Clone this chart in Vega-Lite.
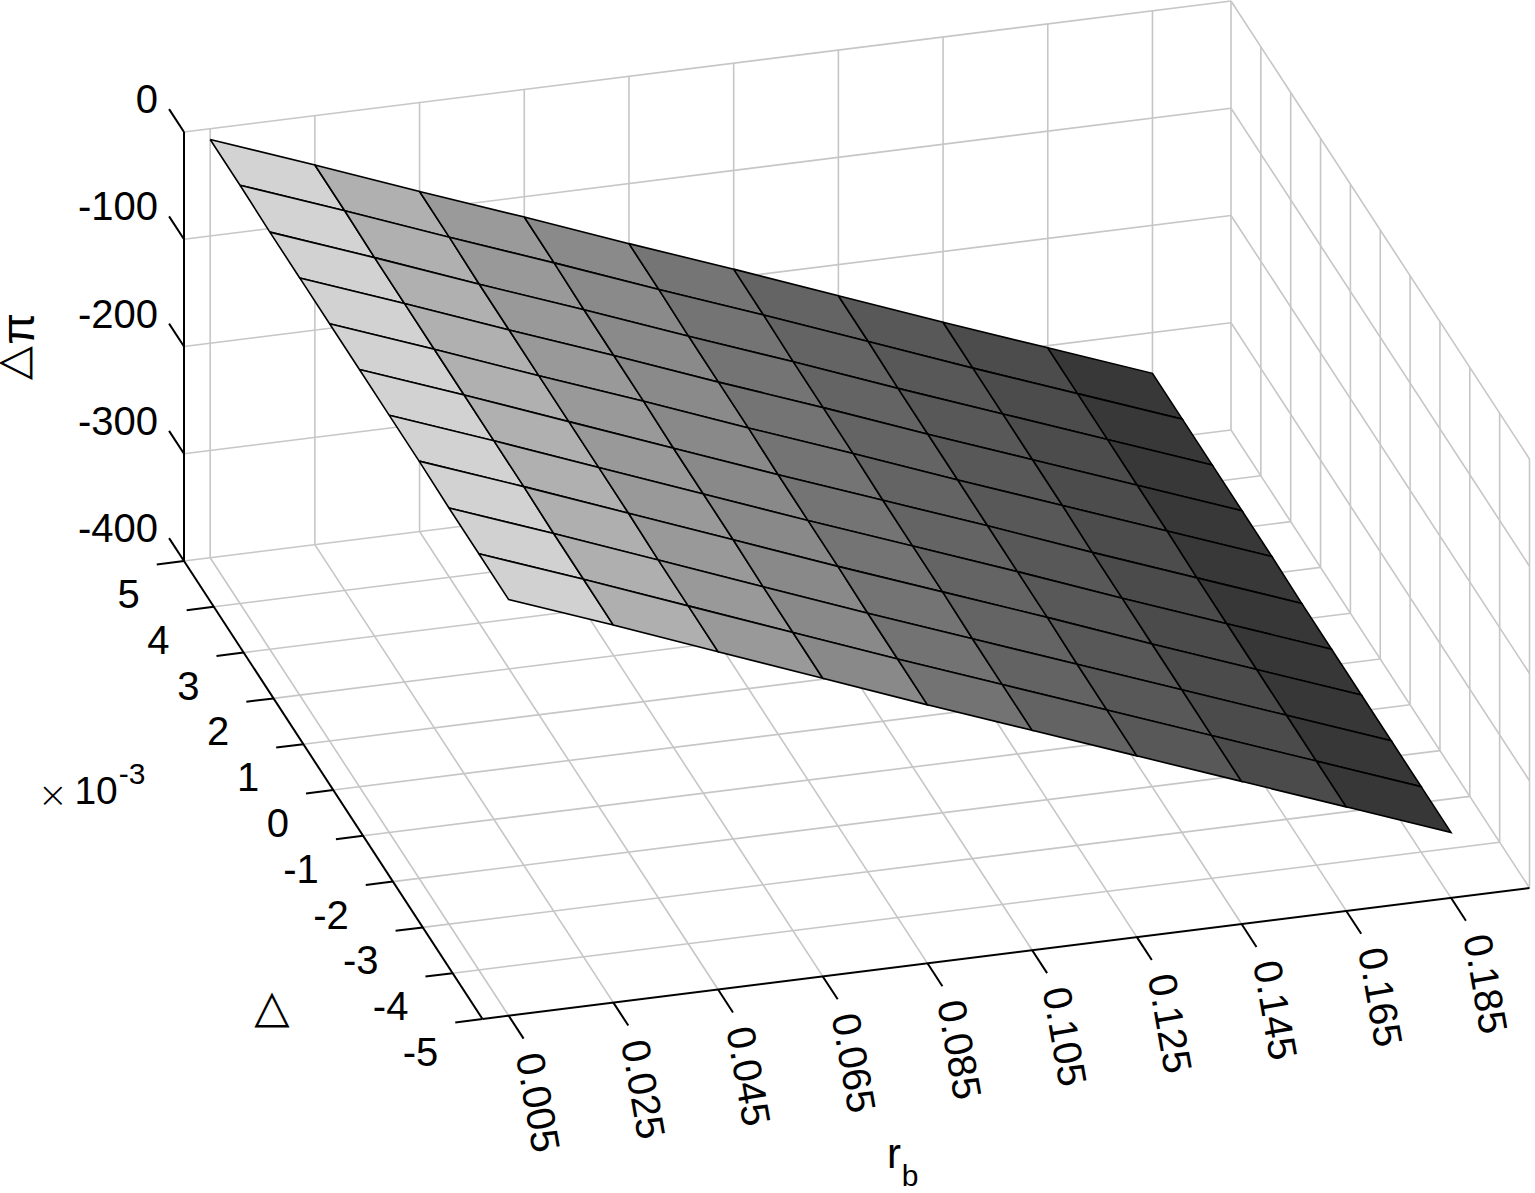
{"$schema":"https://vega.github.io/schema/vega-lite/v6.json","width":1535,"height":1193,"autosize":{"type":"none"},"padding":0,"background":"white","config":{"view":{"stroke":null}},
"data":{"values":[
{"t":"g","id":"fr1","r":[0.005,0.005],"d":[5,-5],"z":[-400,-400],"k":[0,1]},
{"t":"g","id":"fr2","r":[0.025,0.025],"d":[5,-5],"z":[-400,-400],"k":[0,1]},
{"t":"g","id":"fr3","r":[0.045,0.045],"d":[5,-5],"z":[-400,-400],"k":[0,1]},
{"t":"g","id":"fr4","r":[0.065,0.065],"d":[5,-5],"z":[-400,-400],"k":[0,1]},
{"t":"g","id":"fr5","r":[0.085,0.085],"d":[5,-5],"z":[-400,-400],"k":[0,1]},
{"t":"g","id":"fr6","r":[0.105,0.105],"d":[5,-5],"z":[-400,-400],"k":[0,1]},
{"t":"g","id":"fr7","r":[0.125,0.125],"d":[5,-5],"z":[-400,-400],"k":[0,1]},
{"t":"g","id":"fr8","r":[0.145,0.145],"d":[5,-5],"z":[-400,-400],"k":[0,1]},
{"t":"g","id":"fr9","r":[0.165,0.165],"d":[5,-5],"z":[-400,-400],"k":[0,1]},
{"t":"g","id":"fr10","r":[0.185,0.185],"d":[5,-5],"z":[-400,-400],"k":[0,1]},
{"t":"g","id":"fr11","r":[0.2,0.2],"d":[5,-5],"z":[-400,-400],"k":[0,1]},
{"t":"g","id":"fd1","r":[0,0.2],"d":[5,5],"z":[-400,-400],"k":[0,1]},
{"t":"g","id":"fd2","r":[0,0.2],"d":[4,4],"z":[-400,-400],"k":[0,1]},
{"t":"g","id":"fd3","r":[0,0.2],"d":[3,3],"z":[-400,-400],"k":[0,1]},
{"t":"g","id":"fd4","r":[0,0.2],"d":[2,2],"z":[-400,-400],"k":[0,1]},
{"t":"g","id":"fd5","r":[0,0.2],"d":[1,1],"z":[-400,-400],"k":[0,1]},
{"t":"g","id":"fd6","r":[0,0.2],"d":[0,0],"z":[-400,-400],"k":[0,1]},
{"t":"g","id":"fd7","r":[0,0.2],"d":[-1,-1],"z":[-400,-400],"k":[0,1]},
{"t":"g","id":"fd8","r":[0,0.2],"d":[-2,-2],"z":[-400,-400],"k":[0,1]},
{"t":"g","id":"fd9","r":[0,0.2],"d":[-3,-3],"z":[-400,-400],"k":[0,1]},
{"t":"g","id":"fd10","r":[0,0.2],"d":[-4,-4],"z":[-400,-400],"k":[0,1]},
{"t":"g","id":"bv1","r":[0.005,0.005],"d":[5,5],"z":[-400,0],"k":[0,1]},
{"t":"g","id":"bv2","r":[0.025,0.025],"d":[5,5],"z":[-400,0],"k":[0,1]},
{"t":"g","id":"bv3","r":[0.045,0.045],"d":[5,5],"z":[-400,0],"k":[0,1]},
{"t":"g","id":"bv4","r":[0.065,0.065],"d":[5,5],"z":[-400,0],"k":[0,1]},
{"t":"g","id":"bv5","r":[0.085,0.085],"d":[5,5],"z":[-400,0],"k":[0,1]},
{"t":"g","id":"bv6","r":[0.105,0.105],"d":[5,5],"z":[-400,0],"k":[0,1]},
{"t":"g","id":"bv7","r":[0.125,0.125],"d":[5,5],"z":[-400,0],"k":[0,1]},
{"t":"g","id":"bv8","r":[0.145,0.145],"d":[5,5],"z":[-400,0],"k":[0,1]},
{"t":"g","id":"bv9","r":[0.165,0.165],"d":[5,5],"z":[-400,0],"k":[0,1]},
{"t":"g","id":"bv10","r":[0.185,0.185],"d":[5,5],"z":[-400,0],"k":[0,1]},
{"t":"g","id":"bz0","r":[0,0.2],"d":[5,5],"z":[0,0],"k":[0,1]},
{"t":"g","id":"bz1","r":[0,0.2],"d":[5,5],"z":[-100,-100],"k":[0,1]},
{"t":"g","id":"bz2","r":[0,0.2],"d":[5,5],"z":[-200,-200],"k":[0,1]},
{"t":"g","id":"bz3","r":[0,0.2],"d":[5,5],"z":[-300,-300],"k":[0,1]},
{"t":"g","id":"sv0","r":[0.2,0.2],"d":[5,5],"z":[-400,0],"k":[0,1]},
{"t":"g","id":"sv1","r":[0.2,0.2],"d":[4,4],"z":[-400,0],"k":[0,1]},
{"t":"g","id":"sv2","r":[0.2,0.2],"d":[3,3],"z":[-400,0],"k":[0,1]},
{"t":"g","id":"sv3","r":[0.2,0.2],"d":[2,2],"z":[-400,0],"k":[0,1]},
{"t":"g","id":"sv4","r":[0.2,0.2],"d":[1,1],"z":[-400,0],"k":[0,1]},
{"t":"g","id":"sv5","r":[0.2,0.2],"d":[0,0],"z":[-400,0],"k":[0,1]},
{"t":"g","id":"sv6","r":[0.2,0.2],"d":[-1,-1],"z":[-400,0],"k":[0,1]},
{"t":"g","id":"sv7","r":[0.2,0.2],"d":[-2,-2],"z":[-400,0],"k":[0,1]},
{"t":"g","id":"sv8","r":[0.2,0.2],"d":[-3,-3],"z":[-400,0],"k":[0,1]},
{"t":"g","id":"sv9","r":[0.2,0.2],"d":[-4,-4],"z":[-400,0],"k":[0,1]},
{"t":"g","id":"sv10","r":[0.2,0.2],"d":[-5,-5],"z":[-400,0],"k":[0,1]},
{"t":"g","id":"sz0","r":[0.2,0.2],"d":[5,-5],"z":[0,0],"k":[0,1]},
{"t":"g","id":"sz1","r":[0.2,0.2],"d":[5,-5],"z":[-100,-100],"k":[0,1]},
{"t":"g","id":"sz2","r":[0.2,0.2],"d":[5,-5],"z":[-200,-200],"k":[0,1]},
{"t":"g","id":"sz3","r":[0.2,0.2],"d":[5,-5],"z":[-300,-300],"k":[0,1]},

{"t":"s","id":"a0","zm":-28,"r":[0.005,0.025,0.025,0.005,0.005],"d":[5,5,4,4,5],"z":[-10,-46,-46,-10,-10],"k":[0,1,2,3,4]},
{"t":"s","id":"a1","zm":-65,"r":[0.025,0.045,0.045,0.025,0.025],"d":[5,5,4,4,5],"z":[-46,-83,-83,-46,-46],"k":[0,1,2,3,4]},
{"t":"s","id":"a2","zm":-101,"r":[0.045,0.065,0.065,0.045,0.045],"d":[5,5,4,4,5],"z":[-83,-119,-119,-83,-83],"k":[0,1,2,3,4]},
{"t":"s","id":"a3","zm":-138,"r":[0.065,0.085,0.085,0.065,0.065],"d":[5,5,4,4,5],"z":[-119,-156,-156,-119,-119],"k":[0,1,2,3,4]},
{"t":"s","id":"a4","zm":-174,"r":[0.085,0.105,0.105,0.085,0.085],"d":[5,5,4,4,5],"z":[-156,-192,-192,-156,-156],"k":[0,1,2,3,4]},
{"t":"s","id":"a5","zm":-211,"r":[0.105,0.125,0.125,0.105,0.105],"d":[5,5,4,4,5],"z":[-192,-229,-229,-192,-192],"k":[0,1,2,3,4]},
{"t":"s","id":"a6","zm":-248,"r":[0.125,0.145,0.145,0.125,0.125],"d":[5,5,4,4,5],"z":[-229,-266,-266,-229,-229],"k":[0,1,2,3,4]},
{"t":"s","id":"a7","zm":-284,"r":[0.145,0.165,0.165,0.145,0.145],"d":[5,5,4,4,5],"z":[-266,-302,-302,-266,-266],"k":[0,1,2,3,4]},
{"t":"s","id":"a8","zm":-320,"r":[0.165,0.185,0.185,0.165,0.165],"d":[5,5,4,4,5],"z":[-302,-338,-338,-302,-302],"k":[0,1,2,3,4]},

{"t":"s","id":"b0","zm":-28,"r":[0.005,0.025,0.025,0.005,0.005],"d":[4,4,3,3,4],"z":[-10,-46,-47,-11,-10],"k":[0,1,2,3,4]},
{"t":"s","id":"b1","zm":-65,"r":[0.025,0.045,0.045,0.025,0.025],"d":[4,4,3,3,4],"z":[-46,-83,-84,-47,-46],"k":[0,1,2,3,4]},
{"t":"s","id":"b2","zm":-102,"r":[0.045,0.065,0.065,0.045,0.045],"d":[4,4,3,3,4],"z":[-83,-119,-120,-84,-83],"k":[0,1,2,3,4]},
{"t":"s","id":"b3","zm":-138,"r":[0.065,0.085,0.085,0.065,0.065],"d":[4,4,3,3,4],"z":[-119,-156,-157,-120,-119],"k":[0,1,2,3,4]},
{"t":"s","id":"b4","zm":-175,"r":[0.085,0.105,0.105,0.085,0.085],"d":[4,4,3,3,4],"z":[-156,-192,-193,-157,-156],"k":[0,1,2,3,4]},
{"t":"s","id":"b5","zm":-211,"r":[0.105,0.125,0.125,0.105,0.105],"d":[4,4,3,3,4],"z":[-192,-229,-230,-193,-192],"k":[0,1,2,3,4]},
{"t":"s","id":"b6","zm":-248,"r":[0.125,0.145,0.145,0.125,0.125],"d":[4,4,3,3,4],"z":[-229,-266,-266,-230,-229],"k":[0,1,2,3,4]},
{"t":"s","id":"b7","zm":-284,"r":[0.145,0.165,0.165,0.145,0.145],"d":[4,4,3,3,4],"z":[-266,-302,-302,-266,-266],"k":[0,1,2,3,4]},
{"t":"s","id":"b8","zm":-320,"r":[0.165,0.185,0.185,0.165,0.165],"d":[4,4,3,3,4],"z":[-302,-338,-338,-302,-302],"k":[0,1,2,3,4]},

{"t":"s","id":"c0","zm":-29,"r":[0.005,0.025,0.025,0.005,0.005],"d":[3,3,2,2,3],"z":[-11,-47,-47,-11,-11],"k":[0,1,2,3,4]},
{"t":"s","id":"c1","zm":-65,"r":[0.025,0.045,0.045,0.025,0.025],"d":[3,3,2,2,3],"z":[-47,-84,-84,-47,-47],"k":[0,1,2,3,4]},
{"t":"s","id":"c2","zm":-102,"r":[0.045,0.065,0.065,0.045,0.045],"d":[3,3,2,2,3],"z":[-84,-120,-120,-84,-84],"k":[0,1,2,3,4]},
{"t":"s","id":"c3","zm":-138,"r":[0.065,0.085,0.085,0.065,0.065],"d":[3,3,2,2,3],"z":[-120,-157,-157,-120,-120],"k":[0,1,2,3,4]},
{"t":"s","id":"c4","zm":-175,"r":[0.085,0.105,0.105,0.085,0.085],"d":[3,3,2,2,3],"z":[-157,-193,-193,-157,-157],"k":[0,1,2,3,4]},
{"t":"s","id":"c5","zm":-211,"r":[0.105,0.125,0.125,0.105,0.105],"d":[3,3,2,2,3],"z":[-193,-230,-230,-193,-193],"k":[0,1,2,3,4]},
{"t":"s","id":"c6","zm":-248,"r":[0.125,0.145,0.145,0.125,0.125],"d":[3,3,2,2,3],"z":[-230,-266,-266,-230,-230],"k":[0,1,2,3,4]},
{"t":"s","id":"c7","zm":-284,"r":[0.145,0.165,0.165,0.145,0.145],"d":[3,3,2,2,3],"z":[-266,-302,-302,-266,-266],"k":[0,1,2,3,4]},
{"t":"s","id":"c8","zm":-320,"r":[0.165,0.185,0.185,0.165,0.165],"d":[3,3,2,2,3],"z":[-302,-338,-338,-302,-302],"k":[0,1,2,3,4]},

{"t":"s","id":"d0","zm":-29,"r":[0.005,0.025,0.025,0.005,0.005],"d":[2,2,1,1,2],"z":[-11,-47,-47,-11,-11],"k":[0,1,2,3,4]},
{"t":"s","id":"d1","zm":-65,"r":[0.025,0.045,0.045,0.025,0.025],"d":[2,2,1,1,2],"z":[-47,-84,-84,-47,-47],"k":[0,1,2,3,4]},
{"t":"s","id":"d2","zm":-102,"r":[0.045,0.065,0.065,0.045,0.045],"d":[2,2,1,1,2],"z":[-84,-120,-120,-84,-84],"k":[0,1,2,3,4]},
{"t":"s","id":"d3","zm":-138,"r":[0.065,0.085,0.085,0.065,0.065],"d":[2,2,1,1,2],"z":[-120,-157,-157,-120,-120],"k":[0,1,2,3,4]},
{"t":"s","id":"d4","zm":-175,"r":[0.085,0.105,0.105,0.085,0.085],"d":[2,2,1,1,2],"z":[-157,-193,-193,-157,-157],"k":[0,1,2,3,4]},
{"t":"s","id":"d5","zm":-211,"r":[0.105,0.125,0.125,0.105,0.105],"d":[2,2,1,1,2],"z":[-193,-230,-230,-193,-193],"k":[0,1,2,3,4]},
{"t":"s","id":"d6","zm":-248,"r":[0.125,0.145,0.145,0.125,0.125],"d":[2,2,1,1,2],"z":[-230,-266,-266,-230,-230],"k":[0,1,2,3,4]},
{"t":"s","id":"d7","zm":-284,"r":[0.145,0.165,0.165,0.145,0.145],"d":[2,2,1,1,2],"z":[-266,-302,-302,-266,-266],"k":[0,1,2,3,4]},
{"t":"s","id":"d8","zm":-320,"r":[0.165,0.185,0.185,0.165,0.165],"d":[2,2,1,1,2],"z":[-302,-338,-338,-302,-302],"k":[0,1,2,3,4]},

{"t":"s","id":"e0","zm":-29,"r":[0.005,0.025,0.025,0.005,0.005],"d":[1,1,0,0,1],"z":[-11,-47,-47,-11,-11],"k":[0,1,2,3,4]},
{"t":"s","id":"e1","zm":-65,"r":[0.025,0.045,0.045,0.025,0.025],"d":[1,1,0,0,1],"z":[-47,-84,-84,-47,-47],"k":[0,1,2,3,4]},
{"t":"s","id":"e2","zm":-102,"r":[0.045,0.065,0.065,0.045,0.045],"d":[1,1,0,0,1],"z":[-84,-120,-121,-84,-84],"k":[0,1,2,3,4]},
{"t":"s","id":"e3","zm":-139,"r":[0.065,0.085,0.085,0.065,0.065],"d":[1,1,0,0,1],"z":[-120,-157,-158,-121,-120],"k":[0,1,2,3,4]},
{"t":"s","id":"e4","zm":-175,"r":[0.085,0.105,0.105,0.085,0.085],"d":[1,1,0,0,1],"z":[-157,-193,-194,-158,-157],"k":[0,1,2,3,4]},
{"t":"s","id":"e5","zm":-212,"r":[0.105,0.125,0.125,0.105,0.105],"d":[1,1,0,0,1],"z":[-193,-230,-230,-194,-193],"k":[0,1,2,3,4]},
{"t":"s","id":"e6","zm":-248,"r":[0.125,0.145,0.145,0.125,0.125],"d":[1,1,0,0,1],"z":[-230,-266,-267,-230,-230],"k":[0,1,2,3,4]},
{"t":"s","id":"e7","zm":-284,"r":[0.145,0.165,0.165,0.145,0.145],"d":[1,1,0,0,1],"z":[-266,-302,-303,-267,-266],"k":[0,1,2,3,4]},
{"t":"s","id":"e8","zm":-320,"r":[0.165,0.185,0.185,0.165,0.165],"d":[1,1,0,0,1],"z":[-302,-338,-339,-303,-302],"k":[0,1,2,3,4]},

{"t":"s","id":"f0","zm":-29,"r":[0.005,0.025,0.025,0.005,0.005],"d":[0,0,-1,-1,0],"z":[-11,-47,-47,-11,-11],"k":[0,1,2,3,4]},
{"t":"s","id":"f1","zm":-65,"r":[0.025,0.045,0.045,0.025,0.025],"d":[0,0,-1,-1,0],"z":[-47,-84,-84,-47,-47],"k":[0,1,2,3,4]},
{"t":"s","id":"f2","zm":-102,"r":[0.045,0.065,0.065,0.045,0.045],"d":[0,0,-1,-1,0],"z":[-84,-121,-121,-84,-84],"k":[0,1,2,3,4]},
{"t":"s","id":"f3","zm":-139,"r":[0.065,0.085,0.085,0.065,0.065],"d":[0,0,-1,-1,0],"z":[-121,-158,-158,-121,-121],"k":[0,1,2,3,4]},
{"t":"s","id":"f4","zm":-176,"r":[0.085,0.105,0.105,0.085,0.085],"d":[0,0,-1,-1,0],"z":[-158,-194,-194,-158,-158],"k":[0,1,2,3,4]},
{"t":"s","id":"f5","zm":-212,"r":[0.105,0.125,0.125,0.105,0.105],"d":[0,0,-1,-1,0],"z":[-194,-230,-230,-194,-194],"k":[0,1,2,3,4]},
{"t":"s","id":"f6","zm":-248,"r":[0.125,0.145,0.145,0.125,0.125],"d":[0,0,-1,-1,0],"z":[-230,-267,-267,-230,-230],"k":[0,1,2,3,4]},
{"t":"s","id":"f7","zm":-285,"r":[0.145,0.165,0.165,0.145,0.145],"d":[0,0,-1,-1,0],"z":[-267,-303,-303,-267,-267],"k":[0,1,2,3,4]},
{"t":"s","id":"f8","zm":-321,"r":[0.165,0.185,0.185,0.165,0.165],"d":[0,0,-1,-1,0],"z":[-303,-339,-339,-303,-303],"k":[0,1,2,3,4]},

{"t":"s","id":"g0","zm":-29,"r":[0.005,0.025,0.025,0.005,0.005],"d":[-1,-1,-2,-2,-1],"z":[-11,-47,-47,-11,-11],"k":[0,1,2,3,4]},
{"t":"s","id":"g1","zm":-65,"r":[0.025,0.045,0.045,0.025,0.025],"d":[-1,-1,-2,-2,-1],"z":[-47,-84,-84,-47,-47],"k":[0,1,2,3,4]},
{"t":"s","id":"g2","zm":-102,"r":[0.045,0.065,0.065,0.045,0.045],"d":[-1,-1,-2,-2,-1],"z":[-84,-121,-121,-84,-84],"k":[0,1,2,3,4]},
{"t":"s","id":"g3","zm":-139,"r":[0.065,0.085,0.085,0.065,0.065],"d":[-1,-1,-2,-2,-1],"z":[-121,-158,-158,-121,-121],"k":[0,1,2,3,4]},
{"t":"s","id":"g4","zm":-176,"r":[0.085,0.105,0.105,0.085,0.085],"d":[-1,-1,-2,-2,-1],"z":[-158,-194,-194,-158,-158],"k":[0,1,2,3,4]},
{"t":"s","id":"g5","zm":-212,"r":[0.105,0.125,0.125,0.105,0.105],"d":[-1,-1,-2,-2,-1],"z":[-194,-230,-230,-194,-194],"k":[0,1,2,3,4]},
{"t":"s","id":"g6","zm":-248,"r":[0.125,0.145,0.145,0.125,0.125],"d":[-1,-1,-2,-2,-1],"z":[-230,-267,-267,-230,-230],"k":[0,1,2,3,4]},
{"t":"s","id":"g7","zm":-285,"r":[0.145,0.165,0.165,0.145,0.145],"d":[-1,-1,-2,-2,-1],"z":[-267,-303,-303,-267,-267],"k":[0,1,2,3,4]},
{"t":"s","id":"g8","zm":-321,"r":[0.165,0.185,0.185,0.165,0.165],"d":[-1,-1,-2,-2,-1],"z":[-303,-339,-339,-303,-303],"k":[0,1,2,3,4]},

{"t":"s","id":"h0","zm":-29,"r":[0.005,0.025,0.025,0.005,0.005],"d":[-2,-2,-3,-3,-2],"z":[-11,-47,-48,-12,-11],"k":[0,1,2,3,4]},
{"t":"s","id":"h1","zm":-66,"r":[0.025,0.045,0.045,0.025,0.025],"d":[-2,-2,-3,-3,-2],"z":[-47,-84,-85,-48,-47],"k":[0,1,2,3,4]},
{"t":"s","id":"h2","zm":-103,"r":[0.045,0.065,0.065,0.045,0.045],"d":[-2,-2,-3,-3,-2],"z":[-84,-121,-122,-85,-84],"k":[0,1,2,3,4]},
{"t":"s","id":"h3","zm":-140,"r":[0.065,0.085,0.085,0.065,0.065],"d":[-2,-2,-3,-3,-2],"z":[-121,-158,-159,-122,-121],"k":[0,1,2,3,4]},
{"t":"s","id":"h4","zm":-176,"r":[0.085,0.105,0.105,0.085,0.085],"d":[-2,-2,-3,-3,-2],"z":[-158,-194,-195,-159,-158],"k":[0,1,2,3,4]},
{"t":"s","id":"h5","zm":-212,"r":[0.105,0.125,0.125,0.105,0.105],"d":[-2,-2,-3,-3,-2],"z":[-194,-230,-231,-195,-194],"k":[0,1,2,3,4]},
{"t":"s","id":"h6","zm":-249,"r":[0.125,0.145,0.145,0.125,0.125],"d":[-2,-2,-3,-3,-2],"z":[-230,-267,-267,-231,-230],"k":[0,1,2,3,4]},
{"t":"s","id":"h7","zm":-285,"r":[0.145,0.165,0.165,0.145,0.145],"d":[-2,-2,-3,-3,-2],"z":[-267,-303,-303,-267,-267],"k":[0,1,2,3,4]},
{"t":"s","id":"h8","zm":-321,"r":[0.165,0.185,0.185,0.165,0.165],"d":[-2,-2,-3,-3,-2],"z":[-303,-339,-339,-303,-303],"k":[0,1,2,3,4]},

{"t":"s","id":"i0","zm":-30,"r":[0.005,0.025,0.025,0.005,0.005],"d":[-3,-3,-4,-4,-3],"z":[-12,-48,-48,-12,-12],"k":[0,1,2,3,4]},
{"t":"s","id":"i1","zm":-66,"r":[0.025,0.045,0.045,0.025,0.025],"d":[-3,-3,-4,-4,-3],"z":[-48,-85,-85,-48,-48],"k":[0,1,2,3,4]},
{"t":"s","id":"i2","zm":-103,"r":[0.045,0.065,0.065,0.045,0.045],"d":[-3,-3,-4,-4,-3],"z":[-85,-122,-122,-85,-85],"k":[0,1,2,3,4]},
{"t":"s","id":"i3","zm":-140,"r":[0.065,0.085,0.085,0.065,0.065],"d":[-3,-3,-4,-4,-3],"z":[-122,-159,-159,-122,-122],"k":[0,1,2,3,4]},
{"t":"s","id":"i4","zm":-177,"r":[0.085,0.105,0.105,0.085,0.085],"d":[-3,-3,-4,-4,-3],"z":[-159,-195,-195,-159,-159],"k":[0,1,2,3,4]},
{"t":"s","id":"i5","zm":-213,"r":[0.105,0.125,0.125,0.105,0.105],"d":[-3,-3,-4,-4,-3],"z":[-195,-231,-231,-195,-195],"k":[0,1,2,3,4]},
{"t":"s","id":"i6","zm":-249,"r":[0.125,0.145,0.145,0.125,0.125],"d":[-3,-3,-4,-4,-3],"z":[-231,-267,-267,-231,-231],"k":[0,1,2,3,4]},
{"t":"s","id":"i7","zm":-285,"r":[0.145,0.165,0.165,0.145,0.145],"d":[-3,-3,-4,-4,-3],"z":[-267,-303,-303,-267,-267],"k":[0,1,2,3,4]},
{"t":"s","id":"i8","zm":-321,"r":[0.165,0.185,0.185,0.165,0.165],"d":[-3,-3,-4,-4,-3],"z":[-303,-339,-339,-303,-303],"k":[0,1,2,3,4]},

{"t":"s","id":"j0","zm":-30,"r":[0.005,0.025,0.025,0.005,0.005],"d":[-4,-4,-5,-5,-4],"z":[-12,-48,-48,-12,-12],"k":[0,1,2,3,4]},
{"t":"s","id":"j1","zm":-66,"r":[0.025,0.045,0.045,0.025,0.025],"d":[-4,-4,-5,-5,-4],"z":[-48,-85,-85,-48,-48],"k":[0,1,2,3,4]},
{"t":"s","id":"j2","zm":-103,"r":[0.045,0.065,0.065,0.045,0.045],"d":[-4,-4,-5,-5,-4],"z":[-85,-122,-122,-85,-85],"k":[0,1,2,3,4]},
{"t":"s","id":"j3","zm":-140,"r":[0.065,0.085,0.085,0.065,0.065],"d":[-4,-4,-5,-5,-4],"z":[-122,-159,-159,-122,-122],"k":[0,1,2,3,4]},
{"t":"s","id":"j4","zm":-177,"r":[0.085,0.105,0.105,0.085,0.085],"d":[-4,-4,-5,-5,-4],"z":[-159,-195,-195,-159,-159],"k":[0,1,2,3,4]},
{"t":"s","id":"j5","zm":-213,"r":[0.105,0.125,0.125,0.105,0.105],"d":[-4,-4,-5,-5,-4],"z":[-195,-231,-231,-195,-195],"k":[0,1,2,3,4]},
{"t":"s","id":"j6","zm":-249,"r":[0.125,0.145,0.145,0.125,0.125],"d":[-4,-4,-5,-5,-4],"z":[-231,-267,-267,-231,-231],"k":[0,1,2,3,4]},
{"t":"s","id":"j7","zm":-285,"r":[0.145,0.165,0.165,0.145,0.145],"d":[-4,-4,-5,-5,-4],"z":[-267,-303,-303,-267,-267],"k":[0,1,2,3,4]},
{"t":"s","id":"j8","zm":-321,"r":[0.165,0.185,0.185,0.165,0.165],"d":[-4,-4,-5,-5,-4],"z":[-303,-339,-339,-303,-303],"k":[0,1,2,3,4]},

{"t":"b","id":"axz","r":[0,0],"d":[5,5],"z":[-400,0],"k":[0,1]},
{"t":"b","id":"axd","r":[0,0],"d":[5,-5],"z":[-400,-400],"k":[0,1]},
{"t":"b","id":"axr","r":[0,0.2],"d":[-5,-5],"z":[-400,-400],"k":[0,1]},
{"t":"b","id":"tz0","r":[0,0],"d":[5,5.5],"z":[0,0],"k":[0,1]},
{"t":"b","id":"tz1","r":[0,0],"d":[5,5.5],"z":[-100,-100],"k":[0,1]},
{"t":"b","id":"tz2","r":[0,0],"d":[5,5.5],"z":[-200,-200],"k":[0,1]},
{"t":"b","id":"tz3","r":[0,0],"d":[5,5.5],"z":[-300,-300],"k":[0,1]},
{"t":"b","id":"tz4","r":[0,0],"d":[5,5.5],"z":[-400,-400],"k":[0,1]},
{"t":"b","id":"td5","r":[0,-0.0052],"d":[5,5],"z":[-400,-400],"k":[0,1]},
{"t":"b","id":"td4","r":[0,-0.0052],"d":[4,4],"z":[-400,-400],"k":[0,1]},
{"t":"b","id":"td3","r":[0,-0.0052],"d":[3,3],"z":[-400,-400],"k":[0,1]},
{"t":"b","id":"td2","r":[0,-0.0052],"d":[2,2],"z":[-400,-400],"k":[0,1]},
{"t":"b","id":"td1","r":[0,-0.0052],"d":[1,1],"z":[-400,-400],"k":[0,1]},
{"t":"b","id":"td0","r":[0,-0.0052],"d":[0,0],"z":[-400,-400],"k":[0,1]},
{"t":"b","id":"tdm1","r":[0,-0.0052],"d":[-1,-1],"z":[-400,-400],"k":[0,1]},
{"t":"b","id":"tdm2","r":[0,-0.0052],"d":[-2,-2],"z":[-400,-400],"k":[0,1]},
{"t":"b","id":"tdm3","r":[0,-0.0052],"d":[-3,-3],"z":[-400,-400],"k":[0,1]},
{"t":"b","id":"tdm4","r":[0,-0.0052],"d":[-4,-4],"z":[-400,-400],"k":[0,1]},
{"t":"b","id":"tdm5","r":[0,-0.0052],"d":[-5,-5],"z":[-400,-400],"k":[0,1]},
{"t":"b","id":"tr1","r":[0.005,0.005],"d":[-5,-5.5],"z":[-400,-400],"k":[0,1]},
{"t":"b","id":"tr2","r":[0.025,0.025],"d":[-5,-5.5],"z":[-400,-400],"k":[0,1]},
{"t":"b","id":"tr3","r":[0.045,0.045],"d":[-5,-5.5],"z":[-400,-400],"k":[0,1]},
{"t":"b","id":"tr4","r":[0.065,0.065],"d":[-5,-5.5],"z":[-400,-400],"k":[0,1]},
{"t":"b","id":"tr5","r":[0.085,0.085],"d":[-5,-5.5],"z":[-400,-400],"k":[0,1]},
{"t":"b","id":"tr6","r":[0.105,0.105],"d":[-5,-5.5],"z":[-400,-400],"k":[0,1]},
{"t":"b","id":"tr7","r":[0.125,0.125],"d":[-5,-5.5],"z":[-400,-400],"k":[0,1]},
{"t":"b","id":"tr8","r":[0.145,0.145],"d":[-5,-5.5],"z":[-400,-400],"k":[0,1]},
{"t":"b","id":"tr9","r":[0.165,0.165],"d":[-5,-5.5],"z":[-400,-400],"k":[0,1]},
{"t":"b","id":"tr10","r":[0.185,0.185],"d":[-5,-5.5],"z":[-400,-400],"k":[0,1]},

{"t":"lz","label":"0","r":[-0.0007],"d":[5.75],"z":[0],"k":[0]},
{"t":"lz","label":"-100","r":[-0.0007],"d":[5.75],"z":[-100],"k":[0]},
{"t":"lz","label":"-200","r":[-0.0007],"d":[5.75],"z":[-200],"k":[0]},
{"t":"lz","label":"-300","r":[-0.0007],"d":[5.75],"z":[-300],"k":[0]},
{"t":"lz","label":"-400","r":[-0.0007],"d":[5.75],"z":[-400],"k":[0]},
{"t":"lz","label":"5","r":[-0.0115],"d":[4.465],"z":[-400],"k":[0]},
{"t":"lz","label":"4","r":[-0.0115],"d":[3.465],"z":[-400],"k":[0]},
{"t":"lz","label":"3","r":[-0.0115],"d":[2.465],"z":[-400],"k":[0]},
{"t":"lz","label":"2","r":[-0.0115],"d":[1.465],"z":[-400],"k":[0]},
{"t":"lz","label":"1","r":[-0.0115],"d":[0.465],"z":[-400],"k":[0]},
{"t":"lz","label":"0","r":[-0.0115],"d":[-0.535],"z":[-400],"k":[0]},
{"t":"lz","label":"-1","r":[-0.0115],"d":[-1.535],"z":[-400],"k":[0]},
{"t":"lz","label":"-2","r":[-0.0115],"d":[-2.535],"z":[-400],"k":[0]},
{"t":"lz","label":"-3","r":[-0.0115],"d":[-3.535],"z":[-400],"k":[0]},
{"t":"lz","label":"-4","r":[-0.0115],"d":[-4.535],"z":[-400],"k":[0]},
{"t":"lz","label":"-5","r":[-0.0115],"d":[-5.535],"z":[-400],"k":[0]},
{"t":"lr","label":"0.005","r":[0.004],"d":[-5.81],"z":[-400],"k":[0]},
{"t":"lr","label":"0.025","r":[0.0241],"d":[-5.81],"z":[-400],"k":[0]},
{"t":"lr","label":"0.045","r":[0.0442],"d":[-5.81],"z":[-400],"k":[0]},
{"t":"lr","label":"0.065","r":[0.0643],"d":[-5.81],"z":[-400],"k":[0]},
{"t":"lr","label":"0.085","r":[0.0845],"d":[-5.81],"z":[-400],"k":[0]},
{"t":"lr","label":"0.105","r":[0.1046],"d":[-5.81],"z":[-400],"k":[0]},
{"t":"lr","label":"0.125","r":[0.1247],"d":[-5.81],"z":[-400],"k":[0]},
{"t":"lr","label":"0.145","r":[0.1448],"d":[-5.81],"z":[-400],"k":[0]},
{"t":"lr","label":"0.165","r":[0.1649],"d":[-5.81],"z":[-400],"k":[0]},
{"t":"lr","label":"0.185","r":[0.185],"d":[-5.81],"z":[-400],"k":[0]},
{"t":"rr","label":"r","r":[0.05703],"d":[-8.785],"z":[-400],"k":[0]},
{"t":"rb","label":"b","r":[0.05686],"d":[-9.35],"z":[-400],"k":[0]},
{"t":"tri","label":"△","r":[-0.03637],"d":[-4.327],"z":[-400],"k":[0]},
{"t":"tim","label":"×","r":[-0.0502],"d":[0.587],"z":[-400],"k":[0]},
{"t":"ten","label":"10","r":[-0.04197],"d":[0.584],"z":[-400],"k":[0]},
{"t":"sup","label":"-3","r":[-0.03377],"d":[0.816],"z":[-400],"k":[0]},
{"t":"ytri","label":"△","r":[-0.00723],"d":[9.427],"z":[-400],"k":[0]},
{"t":"ypi","label":"π","r":[-0.00226],"d":[10.098],"z":[-400],"k":[0]}
]},
"transform":[
{"flatten":["r","d","z","k"]},
{"calculate":"184+5235*datum.r+29.85*(5-datum.d)","as":"sx"},
{"calculate":"561-655*datum.r+45.8*(5-datum.d)-1.0725*(datum.z+400)","as":"sy"}
],
"encoding":{
"x":{"field":"sx","type":"quantitative","scale":{"domain":[0,1535],"nice":false,"zero":false},"axis":null},
"y":{"field":"sy","type":"quantitative","scale":{"domain":[1193,0],"nice":false,"zero":false},"axis":null}
},
"layer":[
{"transform":[{"filter":"datum.t==='g'"}],"mark":{"type":"line","stroke":"#c6c6c6","strokeWidth":1.6},"encoding":{"detail":{"field":"id"},"order":{"field":"k","type":"quantitative"}}},
{"transform":[{"filter":"datum.t==='s'"}],"mark":{"type":"line","stroke":"#000000","strokeWidth":1.6,"strokeJoin":"miter"},"encoding":{"detail":{"field":"id"},"order":{"field":"k","type":"quantitative"},"fill":{"field":"zm","type":"quantitative","legend":null,"scale":{"domain":[-321,-284,-248,-211,-175,-138,-102,-65,-29],"range":["#373737","#4c4c4c","#585858","#646464","#747474","#8a8a8a","#999999","#b0b0b0","#d2d2d2"],"interpolate":"rgb"}}}},
{"transform":[{"filter":"datum.t==='b'"}],"mark":{"type":"line","stroke":"#000000","strokeWidth":2},"encoding":{"detail":{"field":"id"},"order":{"field":"k","type":"quantitative"}}},
{"transform":[{"filter":"datum.t==='lz'"}],"mark":{"type":"text","font":"Liberation Sans","fontSize":40,"align":"right","baseline":"middle","dy":3,"fill":"#000000"},"encoding":{"text":{"field":"label"}}},
{"transform":[{"filter":"datum.t==='lr'"}],"mark":{"type":"text","font":"Liberation Sans","fontSize":40,"align":"left","baseline":"middle","angle":80,"fill":"#000000"},"encoding":{"text":{"field":"label"}}},
{"transform":[{"filter":"datum.t==='rr'"}],"mark":{"type":"text","font":"Liberation Sans","fontSize":42,"align":"center","baseline":"middle","fill":"#000000"},"encoding":{"text":{"field":"label"}}},
{"transform":[{"filter":"datum.t==='rb'"}],"mark":{"type":"text","font":"Liberation Sans","fontSize":30,"align":"center","baseline":"middle","dy":-4,"fill":"#000000"},"encoding":{"text":{"field":"label"}}},
{"transform":[{"filter":"datum.t==='tri'"}],"mark":{"type":"text","font":"DejaVu Sans","fontSize":46,"align":"center","baseline":"middle","dy":-4,"fill":"#000000"},"encoding":{"text":{"field":"label"}}},
{"transform":[{"filter":"datum.t==='tim'"}],"mark":{"type":"text","font":"DejaVu Sans","fontSize":36,"fontWeight":200,"align":"center","baseline":"middle","fill":"#000000"},"encoding":{"text":{"field":"label"}}},
{"transform":[{"filter":"datum.t==='ten'"}],"mark":{"type":"text","font":"Liberation Sans","fontSize":39,"align":"center","baseline":"middle","dy":1,"fill":"#000000"},"encoding":{"text":{"field":"label"}}},
{"transform":[{"filter":"datum.t==='sup'"}],"mark":{"type":"text","font":"Liberation Sans","fontSize":30,"align":"center","baseline":"middle","fill":"#000000"},"encoding":{"text":{"field":"label"}}},
{"transform":[{"filter":"datum.t==='ytri'"}],"mark":{"type":"text","font":"DejaVu Sans","fontSize":44,"align":"center","baseline":"middle","angle":270,"fill":"#000000"},"encoding":{"text":{"field":"label"}}},
{"transform":[{"filter":"datum.t==='ypi'"}],"mark":{"type":"text","font":"Liberation Sans","fontSize":46,"align":"center","baseline":"middle","angle":270,"fill":"#000000"},"encoding":{"text":{"field":"label"}}}
]}
